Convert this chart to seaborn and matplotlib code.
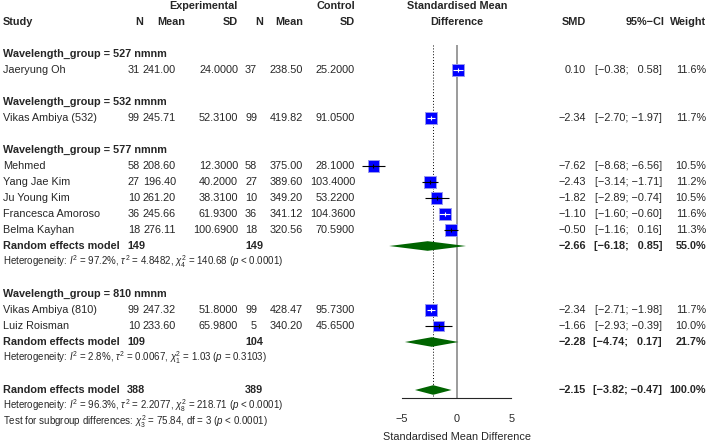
import numpy as np
import pandas as pd
import matplotlib.pyplot as plt
import seaborn as sns

# study level data
studies = ["Jaeryung Oh", "Vikas Ambiya (532)", "Mehmed", "Yang Jae Kim", "Ju Young Kim",
           "Francesca Amoroso", "Belma Kayhan", "Vikas Ambiya (810)", "Luiz Roisman"]
groups = ["527", "532", "577", "577", "577", "577", "577", "810", "810"]
n_e = [31, 99, 58, 27, 10, 36, 18, 99, 10]
mean_e = [241.00, 245.71, 208.60, 196.40, 261.20, 245.66, 276.11, 247.32, 233.60]
sd_e = [24.0, 52.31, 12.3, 40.2, 38.31, 61.93, 100.69, 51.8, 65.98]
n_c = [37, 99, 58, 27, 10, 36, 18, 99, 5]
mean_c = [238.50, 419.82, 375.00, 389.60, 349.20, 341.12, 320.56, 428.47, 340.20]
sd_c = [25.2, 91.05, 28.1, 103.4, 53.22, 104.36, 70.59, 95.73, 45.65]
smd = [0.10, -2.34, -7.62, -2.43, -1.82, -1.10, -0.50, -2.34, -1.66]
ci_lo = [-0.38, -2.70, -8.68, -3.14, -2.89, -1.60, -1.16, -2.71, -2.93]
ci_hi = [0.58, -1.97, -6.56, -1.71, -0.74, -0.60, 0.16, -1.98, -0.39]
weight = [11.6, 11.7, 10.5, 11.2, 10.5, 11.6, 11.3, 11.7, 10.0]

# random effects models (subgroups with more than one study, then overall)
re_groups = ["577", "810", "all"]
re_n_e = [149, 109, 388]
re_n_c = [149, 104, 389]
re_smd = [-2.66, -2.28, -2.15]
re_lo = [-6.18, -4.74, -3.82]
re_hi = [0.85, 0.17, -0.47]
re_weight = [55.0, 21.7, 100.0]
re_het = [r"Heterogeneity: $I^2$ = 97.2%, $\tau^2$ = 4.8482, $\chi^2_4$ = 140.68 ($p$ < 0.0001)",
          r"Heterogeneity: $I^2$ = 2.8%, $\tau^2$ = 0.0067, $\chi^2_1$ = 1.03 ($p$ = 0.3103)",
          r"Heterogeneity: $I^2$ = 96.3%, $\tau^2$ = 2.2077, $\chi^2_8$ = 218.71 ($p$ < 0.0001)"]
subgroup_test = r"Test for subgroup differences: $\chi^2_3$ = 75.84, df = 3 ($p$ < 0.0001)"

sns.set_style("white")
plt.rcParams['font.family'] = ['Liberation Sans', 'DejaVu Sans']
plt.rcParams['mathtext.fontset'] = 'custom'
plt.rcParams['mathtext.rm'] = 'Liberation Sans'
plt.rcParams['mathtext.it'] = 'Liberation Sans:italic'
plt.rcParams['mathtext.bf'] = 'Liberation Sans:bold'

FS = 7.8
FS_SMALL = 7.0
MINUS = "\u2212"


def num(v, fmt):
    return format(v, fmt).replace("-", MINUS)


def ci_text(lo, hi):
    def part(v):
        s = num(v, ".2f")
        return s if v < 0 else "  " + s
    return "[" + part(lo) + "; " + part(hi) + "]"


# build row layout
rows = []
r = 3
study_rows = [0] * len(studies)
re_rows = {}
for g in ["527", "532", "577", "810"]:
    rows.append((g, r))
    r += 1
    for i, gg in enumerate(groups):
        if gg == g:
            study_rows[i] = r
            r += 1
    if g in re_groups:
        re_rows[g] = r
        r += 2
    r += 1
re_rows["all"] = r

df = pd.DataFrame({"study": studies, "smd": smd, "lo": ci_lo, "hi": ci_hi,
                   "weight": weight, "row": study_rows})

fig = plt.figure(figsize=(7.08, 4.42), dpi=100)

# text axes in pixel / row units
tax = fig.add_axes([0, 0, 1, 1])
tax.set_xlim(0, 708)
tax.set_ylim(27.25, -0.375)
tax.axis("off")

X_STUDY, X_NE, X_ME, X_SDE, X_NC, X_MC, X_SDC = 3, 140, 176, 238, 257, 303, 355
X_SMD, X_CI, X_W, X_FOREST = 586, 662, 706, 456.7


def put(x, y, s, ha="right", bold=False, size=FS):
    tax.text(x, y, s, ha=ha, va="center", fontsize=size,
             fontweight="bold" if bold else "normal")


put(238, 0, "Experimental", bold=True)
put(355, 0, "Control", bold=True)
put(X_FOREST, 0, "Standardised Mean", ha="center", bold=True)
put(X_FOREST, 1, "Difference", ha="center", bold=True)
put(X_STUDY, 1, "Study", ha="left", bold=True)
put(143, 1, "N", bold=True)
put(185, 1, "Mean", bold=True)
put(X_SDE, 1, "SD", bold=True)
put(263, 1, "N", bold=True)
put(X_MC, 1, "Mean", bold=True)
put(X_SDC, 1, "SD", bold=True)
put(X_SMD, 1, "SMD", bold=True)
put(665, 1, "95%\u2212CI", bold=True)
put(X_W, 1, "Weight", bold=True)

for g, y in rows:
    put(X_STUDY, y, f"Wavelength_group = {g} nmnm", ha="left", bold=True)

for i, y in enumerate(study_rows):
    put(X_STUDY, y, studies[i], ha="left")
    put(X_NE, y, str(n_e[i]))
    put(X_ME, y, f"{mean_e[i]:.2f}")
    put(X_SDE, y, f"{sd_e[i]:.4f}")
    put(X_NC, y, str(n_c[i]))
    put(X_MC, y, f"{mean_c[i]:.2f}")
    put(X_SDC, y, f"{sd_c[i]:.4f}")
    put(X_SMD, y, num(smd[i], ".2f"))
    put(X_CI, y, ci_text(ci_lo[i], ci_hi[i]))
    put(X_W, y, f"{weight[i]:.1f}%")

for k, g in enumerate(re_groups):
    y = re_rows[g]
    put(X_STUDY, y, "Random effects model", ha="left", bold=True)
    put(145, y, str(re_n_e[k]), bold=True)
    put(263, y, str(re_n_c[k]), bold=True)
    put(X_SMD, y, num(re_smd[k], ".2f"), bold=True)
    put(X_CI, y, ci_text(re_lo[k], re_hi[k]), bold=True)
    put(X_W, y, f"{re_weight[k]:.1f}%", bold=True)
    put(X_STUDY, y + 1, re_het[k], ha="left", size=FS_SMALL)
put(X_STUDY, re_rows["all"] + 2, subgroup_test, ha="left", size=FS_SMALL)

# forest axes: SMD units on x, same row units on y
PX_PER_UNIT = 10.93
Y_AXIS_PX = 398
bottom = (442 - Y_AXIS_PX) / 442
ax = fig.add_axes([0, bottom, 1, 1 - bottom])
ax.patch.set_alpha(0)
ax.set_xlim(-X_FOREST / PX_PER_UNIT, (708 - X_FOREST) / PX_PER_UNIT)
ax.set_ylim((Y_AXIS_PX - 6) / 16, -0.375)

top_line = 3 - 0.55
ax.vlines(0, top_line, (Y_AXIS_PX - 6) / 16, color="#808080", lw=1.1, zorder=1)
ax.vlines(re_smd[-1], top_line, (Y_AXIS_PX - 6) / 16, color="black", lw=0.7,
          linestyles=(0, (1, 2)), zorder=1)

# squares sized by weight
sq_px = {w: 3.45 * np.sqrt(w) for w in df["weight"].unique()}
sns.scatterplot(data=df, x="smd", y="row", size="weight",
                sizes={w: (p * 0.72) ** 2 for w, p in sq_px.items()},
                marker="s", color="#0000FF", edgecolor="#9999EE", linewidth=0.7,
                legend=False, ax=ax, zorder=2)

for _, s in df.iterrows():
    half = sq_px[s["weight"]] / 2 / PX_PER_UNIT
    inside = s["lo"] >= s["smd"] - half and s["hi"] <= s["smd"] + half
    col = "white" if inside else "black"
    ax.hlines(s["row"], s["lo"], s["hi"], color=col, lw=0.8, zorder=3)
    ax.plot(s["smd"], s["row"], marker="|", ms=3, mew=0.8, color=col, zorder=3)

for k, g in enumerate(re_groups):
    y = re_rows[g]
    h = 0.3
    ax.fill([re_lo[k], re_smd[k], re_hi[k], re_smd[k]], [y, y - h, y, y + h],
            color="#006400", lw=0, zorder=2)

for side in ["top", "left", "right"]:
    ax.spines[side].set_visible(False)
ax.spines["bottom"].set_bounds(-5, 5)
ax.spines["bottom"].set_linewidth(0.8)
ax.set_xticks([-5, 0, 5])
ax.set_yticks([])
ax.tick_params(axis="x", direction="out", length=3.6, width=0.8, labelsize=FS, pad=8)
ax.set_xlabel("Standardised Mean Difference", fontsize=FS)
ax.xaxis.set_label_coords(X_FOREST / 708, -0.085)
ax.set_ylabel("")

fig.savefig("out.png", dpi=100)
